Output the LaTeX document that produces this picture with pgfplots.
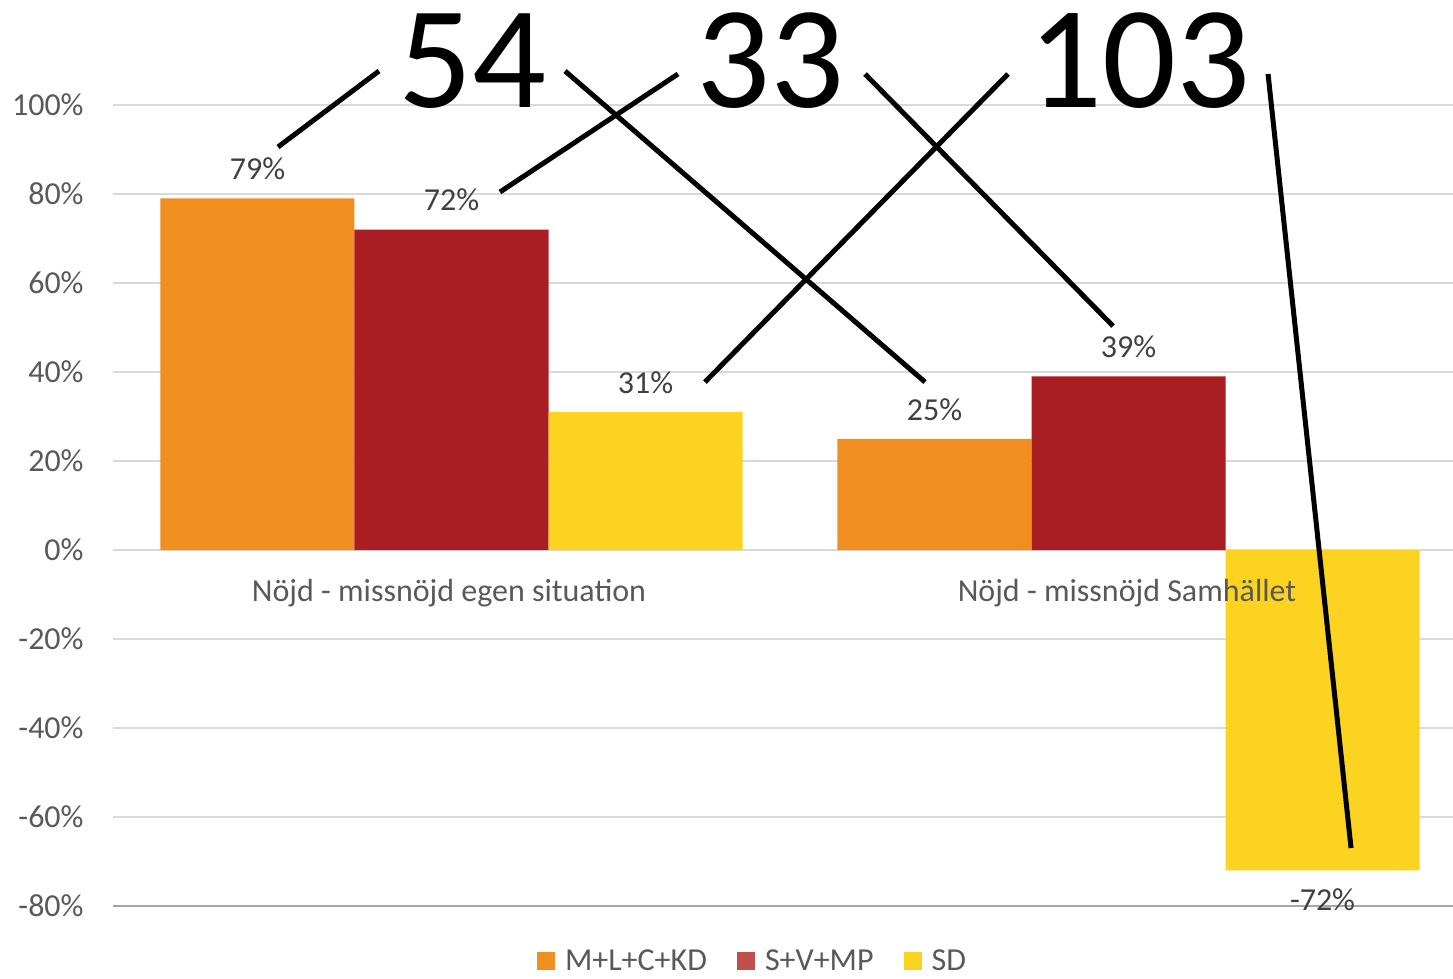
\documentclass[border=0pt]{standalone}
\usepackage{fontspec}
\setmainfont{Carlito}
\usepackage{pgfplots}
\pgfplotsset{compat=1.18}
\definecolor{orng}{RGB}{240,142,32}
\definecolor{dred}{RGB}{170,29,34}
\definecolor{yel}{RGB}{252,211,32}
\definecolor{legred}{RGB}{192,80,77}
\definecolor{txt}{RGB}{89,89,89}
\definecolor{lbl}{RGB}{64,64,64}
\definecolor{grd}{RGB}{217,217,217}
\definecolor{axl}{RGB}{166,166,166}
\begin{document}
\begin{tikzpicture}
\begin{axis}[
 x=338.5pt, y=2.225pt,
 xmin=-0.5, xmax=1.4793, ymin=-80, ymax=100,
 axis line style={draw=none},
 clip=false,
 ytick={-80,-60,-40,-20,0,20,40,60,80,100},
 yticklabels={-80\%,-60\%,-40\%,-20\%,0\%,20\%,40\%,60\%,80\%,100\%},
 yticklabel style={font=\fontsize{16}{19}\selectfont, text=txt, inner sep=0pt, xshift=-14.5pt},
 major tick length=0pt,
 xtick=\empty,
 ymajorgrids, grid style={grd, line width=1pt},
 ybar=0pt, bar width=0.2866,
 nodes near coords={\pgfmathprintnumber{\pgfplotspointmeta}\%},
 nodes near coords style={font=\fontsize{16}{19}\selectfont, text=lbl, inner sep=9pt},
 /pgf/number format/assume math mode=true,
 legend columns=3,
 legend style={draw=none, fill=none, at={(axis description cs:0.478,-0.069)}, anchor=center,
   font=\fontsize{16}{19}\selectfont, text=txt,
   /tikz/every odd column/.append style={column sep=3pt},
   /tikz/every even column/.append style={column sep=13pt}},
 legend image code/.code={\fill[#1] (0pt,-4.5pt) rectangle (9pt,4.5pt);},
]
\addplot[fill=orng, draw=none, bar shift=-0.2866] coordinates {(0,79) (1,25)};
\addlegendentry{M+L+C+KD}
\addplot[fill=dred, draw=none, bar shift=0,
  legend image code/.code={\fill[legred] (0pt,-4.5pt) rectangle (9pt,4.5pt);}] coordinates {(0,72) (1,39)};
\addlegendentry{S+V+MP}
\addplot[fill=yel, draw=none, bar shift=0.2866] coordinates {(0,31) (1,-72)};
\addlegendentry{SD}

\draw[axl, line width=1pt] (axis cs:-0.5,-80) -- (axis cs:1.4793,-80);

\node[anchor=base, font=\fontsize{16}{19}\selectfont, text=txt] at (axis cs:-0.0037,-11.46) {Nöjd - missnöjd egen situation};
\node[anchor=base, font=\fontsize{16}{19}\selectfont, text=txt] at (axis cs:0.9978,-11.46) {Nöjd - missnöjd Samhället};

\node[anchor=base, font=\fontsize{73}{80}\selectfont, inner sep=0pt] at (axis cs:0.0303,99.33) {54};
\node[anchor=base, font=\fontsize{73}{80}\selectfont, inner sep=0pt] at (axis cs:0.4712,99.33) {33};
\node[anchor=base, font=\fontsize{73}{80}\selectfont, inner sep=0pt] at (axis cs:1.0155,99.33) {103};

\draw[black, line width=2.5pt] (axis cs:-0.2563,90.56) -- (axis cs:-0.1071,107.64);
\draw[black, line width=2.5pt] (axis cs:0.0716,80.45) -- (axis cs:0.3346,106.97);
\draw[black, line width=2.5pt] (axis cs:0.1677,107.64) -- (axis cs:0.6994,37.75);
\draw[black, line width=2.5pt] (axis cs:0.3744,37.75) -- (axis cs:0.8220,106.97);
\draw[black, line width=2.5pt] (axis cs:0.6108,106.97) -- (axis cs:0.9771,50.34);
\draw[black, line width=2.5pt] (axis cs:1.2061,106.97) -- (axis cs:1.3287,-66.97);

\coordinate (bbl) at (axis cs:-0.6669,-96.2);
\coordinate (btr) at (axis cs:1.4793,123.6);
\end{axis}
\pgfresetboundingbox
\path[use as bounding box] (bbl) rectangle (btr);
\end{tikzpicture}
\end{document}
